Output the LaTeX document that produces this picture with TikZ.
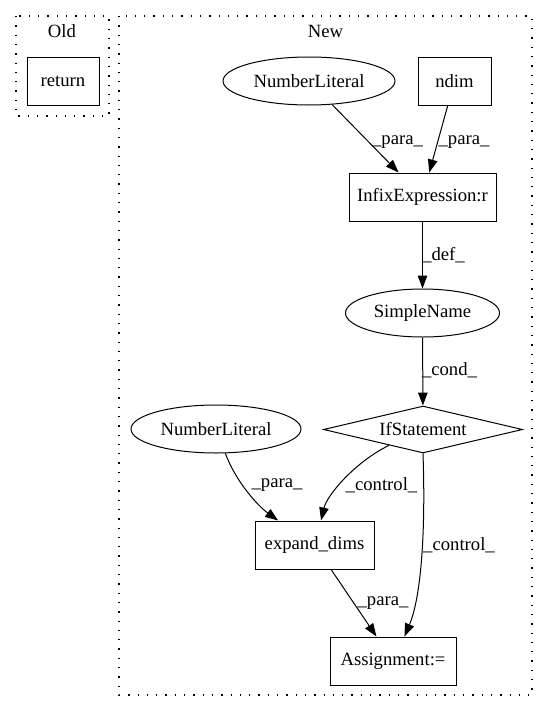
\documentclass[tikz,border=0pt]{standalone}
\usepackage{fontspec}
\setmainfont{Liberation Serif}
\usepackage{tikz}
\usetikzlibrary{shapes.geometric}
\usetikzlibrary{arrows.meta}
\tikzset{%
    rbox/.style={draw, rectangle, line width=1pt, inner sep=0pt, minimum height=48pt},
    oval/.style={draw, ellipse, line width=1pt, inner sep=0pt, minimum width=172pt, minimum height=48pt},
    dmd/.style={draw, diamond, aspect=4.2, line width=1pt, inner sep=0pt, minimum width=199pt, minimum height=47pt},
    arr/.style={line width=1pt, -{Triangle[length=13pt,width=9.5pt]}},
    elbl/.style={inner sep=0pt},
    clu/.style={line width=1.3pt, dash pattern=on 1.3pt off 8pt}
}

\begin{document}
\begin{tikzpicture}[x=1pt, y=-1pt, font=\fontsize{18.67}{22}\selectfont]
            \useasboundingbox (0,0) rectangle (548,712);

            % draw clusters, labels
            \draw[clu] (16,16) rectangle (109,116);
            \draw[clu] (119,16) rectangle (532,695);
            \node (Old) at (62,31){Old};
            \node (New) at (325.5,31){New};

            % old side
            \node[rbox, minimum width=72pt] (ret) at (63,81){return};

            % new side: nodes
            \node[oval] (nl1) at (309,81){NumberLiteral};
            \node[rbox, minimum width=73pt] (ndim) at (454.5,81){ndim};
            \node[rbox, minimum width=147pt] (infix) at (422.5,197){InfixExpression:r};
            \node[oval, minimum width=154pt] (sname) at (422.5,313){SimpleName};
            \node[dmd] (ifst) at (423,429.5){IfStatement};
            \node[oval, minimum width=170pt] (nl2) at (216,429){NumberLiteral};
            \node[rbox, minimum width=119pt] (expd) at (314.5,545){expand\_dims};
            \node[rbox, minimum width=126pt] (asgn) at (393,661){Assignment:=};

            % edges
            \draw[arr] (nl1) -- (infix);
            \draw[arr] (ndim) -- (infix);
            \draw[arr] (infix) -- (sname);
            \draw[arr] (sname) -- (ifst);
            \draw[arr] (nl2.-69) .. controls (236,482) and (258,506) .. (expd.146);
            \draw[arr] (ifst.205) .. controls (355,462) and (327,495) .. (expd.75);
            \draw[arr] (ifst.south) .. controls (426,540) and (420,600) .. (asgn.65);
            \draw[arr] (expd) -- (asgn);

            % edge labels
            \node[elbl] (l1) at (397.5,142){\_para\_};
            \node[elbl] (l2) at (464,142){\_para\_};
            \node[elbl] (l3) at (443.5,255){\_def\_};
            \node[elbl] (l4) at (449.5,370){\_cond\_};
            \node[elbl] (l5) at (277,485){\_para\_};
            \node[elbl] (l6) at (381.5,485){\_control\_};
            \node[elbl] (l7) at (459,545){\_control\_};
            \node[elbl] (l8) at (383,603){\_para\_};
        \end{tikzpicture}
\end{document}
